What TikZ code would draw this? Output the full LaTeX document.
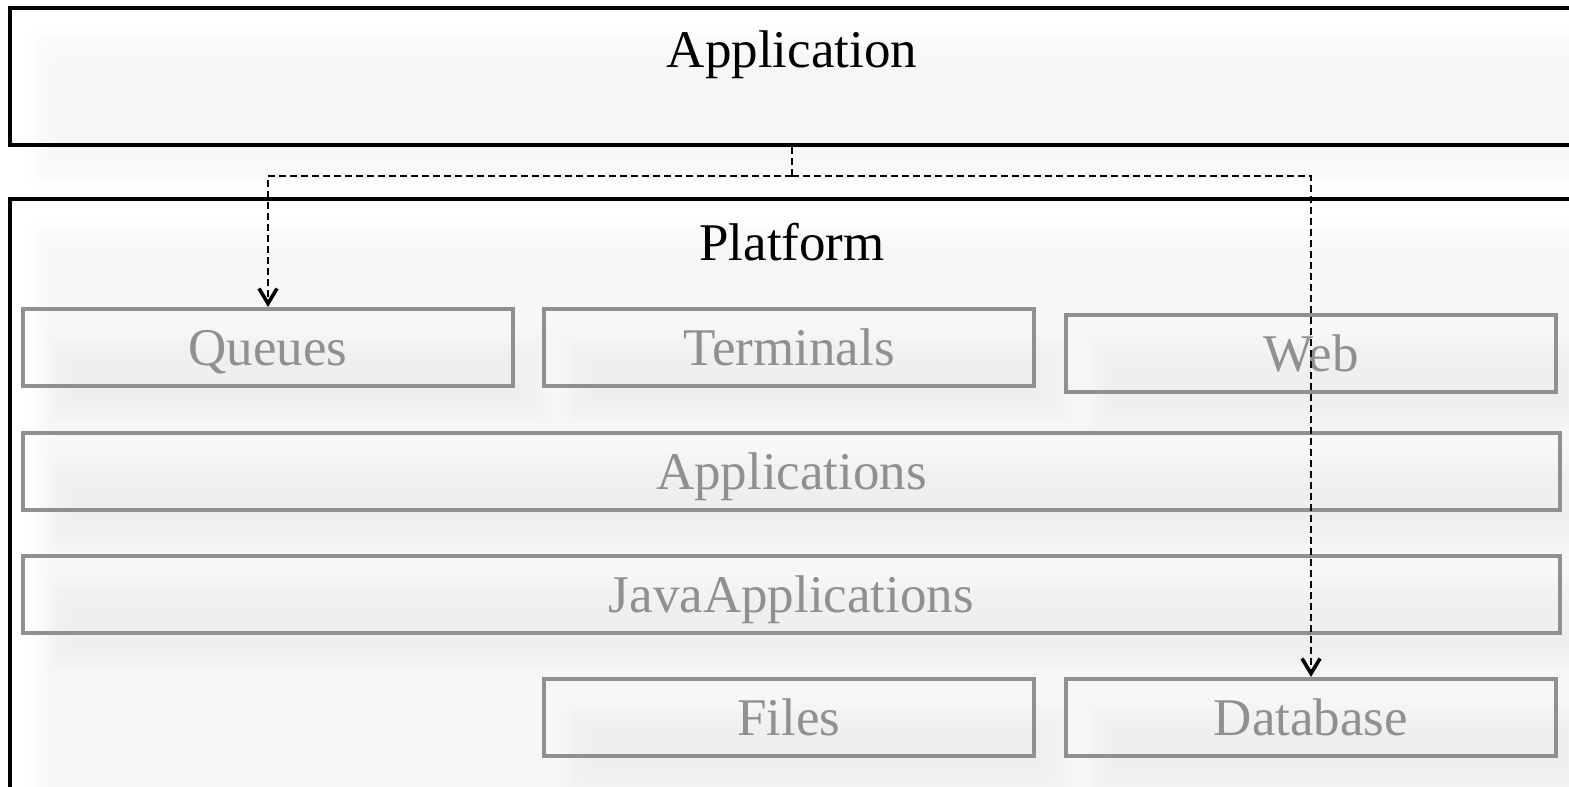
\documentclass[tikz,border=0pt]{standalone}
\usepackage{fontspec}
\setmainfont{Liberation Serif}
\usepackage{tikz}
\usepackage{xcolor}
\usetikzlibrary{arrows.meta,shadows.blur}
\definecolor{layergray}{HTML}{909090}

\tikzset{
    softshadow/.style = {blur shadow = {shadow xshift = 14pt, shadow yshift = -16pt, shadow blur radius = 8pt, shadow opacity = 3}},
    layerbox/.style = {draw, rectangle, line width = 2pt, softshadow},
    partbox/.style = {draw = layergray, text = layergray, rectangle, line width = 2pt, minimum height = 38.5pt, text depth = 0pt, softshadow, font = \fontsize{26.5}{30}\selectfont},
    link/.style = {line width = 1.3pt, dash pattern = on 3.5pt off 2pt, -{Straight Barb[length = 7.5pt, width = 9pt, line width = 1.8pt]}}
}

\begin{document}
\begin{tikzpicture}
        \useasboundingbox (0pt, 0pt) rectangle (784.5pt, -393.5pt);

        % Nodes
        \node [layerbox, minimum width = 782pt, minimum height = 68.5pt] (app) at (396pt, -38.25pt) {};
        \node [layerbox, minimum width = 782pt, minimum height = 300.5pt] (platform) at (396pt, -249.75pt) {};
        \node [font = \fontsize{26.5}{30}\selectfont] (apptitle) at (396pt, -27.5pt) {Application};
        \node [font = \fontsize{26.5}{30}\selectfont] (platformtitle) at (396pt, -121pt) {Platform};

        \node [partbox, minimum width = 245pt] (queues) at (134pt, -173.75pt) {Queues};
        \node [partbox, minimum width = 245pt] (terminals) at (394.5pt, -173.75pt) {Terminals};
        \node [partbox, minimum width = 245pt] (web) at (655.5pt, -176.5pt) {Web};
        \node [partbox, minimum width = 768.5pt] (apps) at (395.75pt, -235.75pt) {Applications};
        \node [partbox, minimum width = 768.5pt] (javaapps) at (395.75pt, -297.25pt) {JavaApplications};
        \node [partbox, minimum width = 245pt] (files) at (394.5pt, -358.75pt) {Files};
        \node [partbox, minimum width = 245pt] (database) at (655.5pt, -358.75pt) {Database};

        % Draw the links
        \coordinate (split) at (396pt, -88pt);
        \draw [line width = 1.3pt, dash pattern = on 3.5pt off 2pt] (app.south) -- (split);
        \draw [link] (split) -| (queues.north);
        \draw [link] (split) -| (database.north);

    \end{tikzpicture}
\end{document}
